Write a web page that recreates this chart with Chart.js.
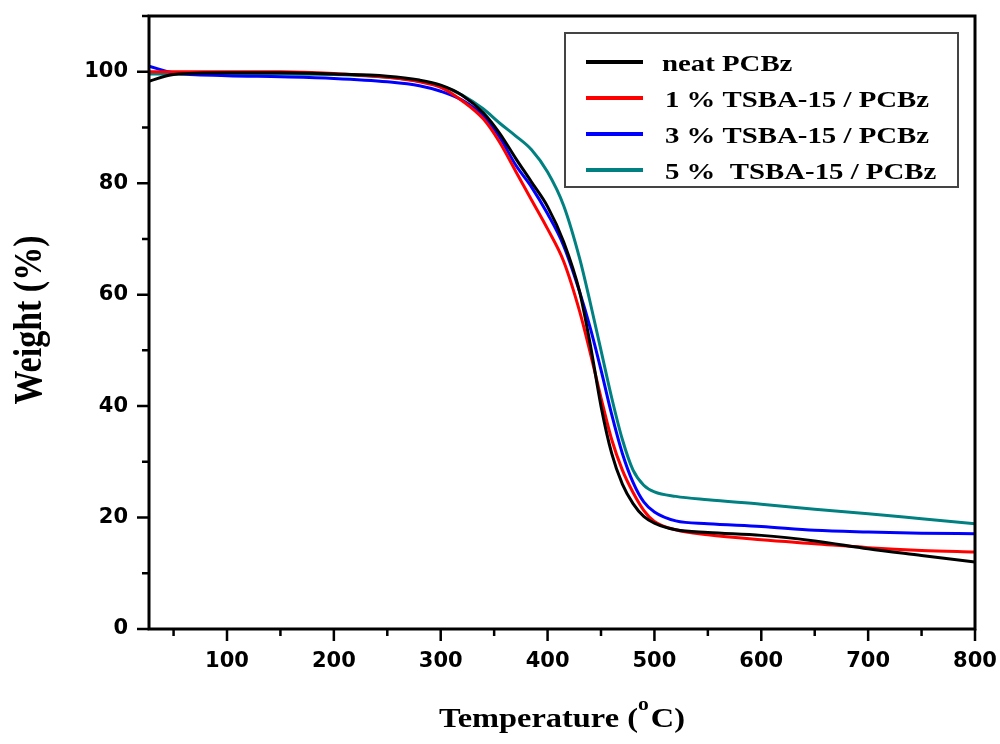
<!DOCTYPE html>
<html>
<head>
<meta charset="utf-8">
<script src="https://cdn.jsdelivr.net/npm/chart.js@4.4.1/dist/chart.umd.min.js"></script>
<style>
  body { margin: 0; background: #fff; }
</style>
</head>
<body>
<canvas id="miGrafico" width="1000" height="744"></canvas>
<script>
var temperaturas = [27, 50, 100, 150, 200, 250, 280, 300, 320, 340, 355, 370, 385, 400, 415, 430, 440, 450, 460, 470, 480, 490, 500, 520, 550, 600, 650, 700, 750, 800];

// weight (%) for each sample
var neat  = [98.3, 99.5, 99.8, 99.8, 99.6, 99.2, 98.5, 97.6, 95.8, 92.6, 89.0, 84.5, 80.2, 75.8, 69.5, 60.5, 51.0, 40.0, 31.5, 26.0, 22.5, 20.2, 19.0, 17.8, 17.3, 16.8, 15.8, 14.4, 13.2, 12.0];
var tsba1 = [100, 100, 100, 100, 99.7, 99.0, 98.2, 97.2, 94.8, 91.5, 87.4, 82.2, 77.0, 71.8, 66.0, 57.0, 49.5, 41.5, 34.0, 28.5, 24.5, 21.3, 19.3, 17.8, 16.9, 16.0, 15.3, 14.6, 14.1, 13.8];
var tsba3 = [101, 99.8, 99.3, 99.1, 98.8, 98.2, 97.5, 96.5, 94.9, 92.0, 88.3, 83.3, 79.3, 74.5, 68.8, 60.5, 54.0, 46.5, 38.5, 31.5, 26.3, 22.8, 21.0, 19.4, 18.9, 18.4, 17.7, 17.4, 17.2, 17.1];
var tsba5 = [99.6, 99.6, 99.6, 99.6, 99.5, 99.0, 98.3, 97.5, 95.8, 93.3, 90.8, 88.5, 86.0, 82.0, 76.0, 66.5, 58.5, 50.0, 41.5, 34.0, 28.5, 25.8, 24.6, 23.8, 23.2, 22.4, 21.5, 20.7, 19.8, 18.9];

var etiquetas = ['neat PCBz', '1 % TSBA-15 / PCBz', '3 % TSBA-15 / PCBz', '5 %  TSBA-15 / PCBz'];
var colores = ['#000000', '#ff0000', '#0000ff', '#008080'];

var ticksX = [100, 200, 300, 400, 500, 600, 700, 800];
var ticksXmenor = [50, 150, 250, 350, 450, 550, 650, 750];
var ticksY = [0, 20, 40, 60, 80, 100];
var ticksYmenor = [10, 30, 50, 70, 90, 110];

function serie(valores) {
  var pts = [];
  for (let i = 0; i < temperaturas.length; i++) {
    pts.push({ x: temperaturas[i], y: valores[i] });
  }
  return pts;
}

var series = [neat, tsba1, tsba3, tsba5];
var datasets = [];
for (let i = 0; i < series.length; i++) {
  datasets.push({
    label: etiquetas[i],
    data: serie(series[i]),
    borderColor: colores[i],
    borderWidth: 3,
    pointRadius: 0,
    fill: false,
    cubicInterpolationMode: 'monotone'
  });
}

// stretched text helper (the original figure is a bit wide)
function texto(ctx, str, x, y, sx) {
  ctx.save();
  ctx.translate(x, y);
  ctx.scale(sx, 1);
  ctx.fillText(str, 0, 0);
  ctx.restore();
}

// frame, ticks, legend and axis titles
var marco = {
  id: 'marco',
  afterDraw: function (chart) {
    var ctx = chart.ctx;
    var a = chart.chartArea;
    var sx = chart.scales.x, sy = chart.scales.y;
    ctx.save();
    ctx.strokeStyle = '#000';
    ctx.lineWidth = 3;
    ctx.strokeRect(a.left, a.top, a.right - a.left, a.bottom - a.top);

    ctx.lineWidth = 2.5;
    ctx.beginPath();
    ticksX.forEach(function (v) {
      var px = sx.getPixelForValue(v);
      ctx.moveTo(px, a.bottom); ctx.lineTo(px, a.bottom + 12);
    });
    ticksXmenor.forEach(function (v) {
      var px = sx.getPixelForValue(v);
      ctx.moveTo(px, a.bottom); ctx.lineTo(px, a.bottom + 7);
    });
    ticksY.forEach(function (v) {
      var py = sy.getPixelForValue(v);
      ctx.moveTo(a.left, py); ctx.lineTo(a.left - 12, py);
    });
    ticksYmenor.forEach(function (v) {
      var py = sy.getPixelForValue(v);
      ctx.moveTo(a.left, py); ctx.lineTo(a.left - 7, py);
    });
    ctx.stroke();

    // legend box
    ctx.lineWidth = 2;
    ctx.strokeStyle = '#444';
    ctx.strokeRect(565, 33, 393, 154);
    ctx.font = 'bold 24px "Liberation Serif", "Times New Roman", serif';
    ctx.fillStyle = '#000';
    ctx.textBaseline = 'alphabetic';
    ctx.textAlign = 'left';
    chart.data.datasets.forEach(function (ds, i) {
      var yl = 62 + i * 36;
      ctx.strokeStyle = ds.borderColor;
      ctx.lineWidth = 4;
      ctx.beginPath();
      ctx.moveTo(586, yl); ctx.lineTo(643, yl);
      ctx.stroke();
      texto(ctx, ds.label, i == 0 ? 662 : 665, yl + 9, 1.2);
    });

    // x title with superscript o
    ctx.font = 'bold 27px "Liberation Serif", "Times New Roman", serif';
    var t1 = 'Temperature (', t2 = 'C)';
    var w1 = ctx.measureText(t1).width * 1.2;
    var w3 = ctx.measureText(t2).width * 1.2;
    ctx.font = 'bold 18px "Liberation Serif", "Times New Roman", serif';
    var w2 = ctx.measureText('o').width * 1.2 + 2;
    var x0 = (a.left + a.right) / 2 - (w1 + w2 + w3) / 2;
    ctx.font = 'bold 27px "Liberation Serif", "Times New Roman", serif';
    texto(ctx, t1, x0, 727, 1.2);
    texto(ctx, t2, x0 + w1 + w2, 727, 1.2);
    ctx.font = 'bold 18px "Liberation Serif", "Times New Roman", serif';
    texto(ctx, 'o', x0 + w1, 710, 1.2);

    // y title
    ctx.font = 'bold 34px "Liberation Serif", "Times New Roman", serif';
    ctx.textAlign = 'center';
    ctx.textBaseline = 'middle';
    ctx.translate(30, 320);
    ctx.scale(1.2, 1);
    ctx.rotate(-Math.PI / 2);
    ctx.fillText('Weight (%)', 0, 0);
    ctx.restore();
  }
};

var ctx = document.getElementById('miGrafico').getContext('2d');
var chart = new Chart(ctx, {
  type: 'line',
  data: { datasets: datasets },
  options: {
    responsive: false,
    animation: false,
    devicePixelRatio: 1,
    layout: { padding: { top: 16, right: 25, left: 0, bottom: 0 } },
    plugins: { legend: { display: false }, tooltip: { enabled: false } },
    scales: {
      x: {
        type: 'linear',
        min: 27,
        max: 800,
        afterFit: function (s) { s.height = 115; s.paddingLeft = 0; s.paddingRight = 0; },
        afterBuildTicks: function (s) { s.ticks = ticksX.map(function (v) { return { value: v }; }); },
        grid: { display: false, drawTicks: false },
        border: { display: false },
        ticks: {
          padding: 20,
          color: '#000',
          font: { family: '"DejaVu Sans", sans-serif', weight: 'bold', size: 21 }
        }
      },
      y: {
        type: 'linear',
        min: 0,
        max: 110,
        afterFit: function (s) { s.width = 149; s.paddingTop = 0; s.paddingBottom = 0; },
        afterBuildTicks: function (s) { s.ticks = ticksY.map(function (v) { return { value: v }; }); },
        grid: { display: false, drawTicks: false },
        border: { display: false },
        ticks: {
          padding: 21,
          color: '#000',
          font: { family: '"DejaVu Sans", sans-serif', weight: 'bold', size: 21 }
        }
      }
    }
  },
  plugins: [marco]
});
</script>
</body>
</html>
